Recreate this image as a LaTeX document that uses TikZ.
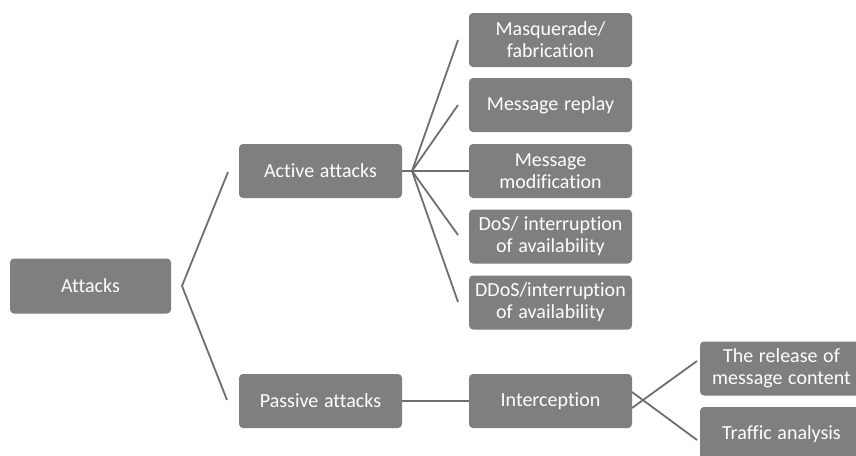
\documentclass[tikz,border=0pt]{standalone}
\usepackage{fontspec}
\setmainfont{Carlito}[WordSpace={1.25,1,1},Ligatures={NoCommon,NoRequired,NoContextual}]
\definecolor{boxgray}{HTML}{7F7F7F}
\definecolor{linegray}{HTML}{6F6F6F}
\begin{document}
\begin{tikzpicture}[x=1pt,y=-1pt,
  box/.style={draw=none,fill=boxgray,rounded corners=4pt,minimum width=163pt,minimum height=54pt,
    text=white,align=center,inner sep=0pt,font=\fontsize{20}{22}\selectfont},
  conn/.style={draw=linegray,line width=1.8pt}]
\useasboundingbox (0,0) rectangle (856,455);
\clip (0,0) rectangle (856,455);
\fill[white] (0,0) rectangle (856,455);
\node[box,minimum width=161pt,minimum height=55pt] (attacks) at (90.5,286) {Attacks};
\node[box] (active) at (320.5,171) {Active attacks};
\node[box] (passive) at (320.5,401) {Passive attacks};
\node[box] (interc) at (550.5,401) {Interception};
\node[box] (masq) at (550.5,40) {Masquerade/\\fabrication};
\node[box] (replay) at (550.5,105) {Message replay};
\node[box] (modif) at (550.5,171) {Message\\modification};
\node[box] (dos) at (550.5,236.5) {DoS/ interruption\\of availability};
\node[box] (ddos) at (550.5,302.5) {DDoS/interruption\\of availability};
\node[box] (release) at (781.5,368.5) {The release of\\message content};
\node[box] (traffic) at (781.5,434) {Traffic analysis};
% attacks fan
\coordinate (a0) at (182,286);
\coordinate (a1) at (228,172);
\coordinate (a2) at (227,400);
\draw[conn] (a1) -- (a0) -- (a2);
% active fan
\coordinate (b0) at (412,171);
\coordinate (b1) at (458,40);
\coordinate (b2) at (458,105);
\coordinate (b4) at (458,235);
\coordinate (b5) at (458,302);
\draw[conn] (active.east) -- (b0) -- (modif.west);
\draw[conn] (b0) -- (b1);
\draw[conn] (b0) -- (b2);
\draw[conn] (b0) -- (b4);
\draw[conn] (b0) -- (b5);
% passive
\draw[conn] (passive.east) -- (interc.west);
\coordinate (c1) at (632,392);
\coordinate (c2) at (632,408);
\coordinate (d1) at (697,440);
\coordinate (d2) at (697,361);
\draw[conn] (c1) -- (d1);
\draw[conn] (c2) -- (d2);
\end{tikzpicture}
\end{document}
